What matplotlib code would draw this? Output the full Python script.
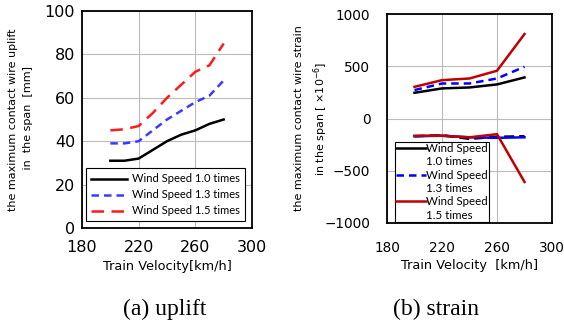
import matplotlib
matplotlib.use("Agg")
import matplotlib.pyplot as plt
from matplotlib.lines import Line2D

# ---- data ----
speed = [200, 210, 220, 230, 240, 250, 260, 270, 280]
uplift_10 = [31, 31, 32, 36, 40, 43, 45, 48, 50]
uplift_13 = [39, 39, 40, 45, 50, 54, 58, 61, 68]
uplift_15 = [45, 45.5, 47, 53, 60, 66, 72, 75, 85]

speed_s = [200, 220, 240, 260, 280]
strain_up_10 = [246, 288, 297, 326, 393]
strain_up_13 = [272, 335, 335, 383, 495]
strain_up_15 = [303, 367, 383, 457, 808]
strain_lo_10 = [-170, -160, -195, -175, -170]
strain_lo_13 = [-170, -165, -180, -185, -180]
strain_lo_15 = [-165, -165, -180, -150, -607]

C_BLK = "black"; C_BLU1 = "#3a3aff"; C_RED1 = "#ff1a1a"
C_BLU2 = "#0000ff"; C_RED2 = "#c00000"

plt.rcParams["font.family"] = ["DejaVu Sans"]
fig = plt.figure(figsize=(5.64, 3.28), dpi=100)
W, H = 564, 328

def axes_px(l, t, r, b):
    return fig.add_axes([l / W, 1 - b / H, (r - l) / W, (b - t) / H])

def style(ax, size, xpad, ypad):
    ax.grid(True, color="#bbbbbb", lw=0.8)
    ax.set_axisbelow(True)
    ax.tick_params(axis="x", direction="in", labelsize=size, length=0, pad=xpad)
    ax.tick_params(axis="y", direction="in", labelsize=size, length=0, pad=ypad)
    for s in ax.spines.values():
        s.set_linewidth(1.3)

# ---- (a) uplift ----
ax1 = axes_px(82, 11, 252, 228)
ax1.plot(speed, uplift_10, color=C_BLK, lw=1.8, label="Wind Speed 1.0 times")
ax1.plot(speed, uplift_13, color=C_BLU1, lw=1.8, ls=(0, (3, 2)), label="Wind Speed 1.3 times")
ax1.plot(speed, uplift_15, color=C_RED1, lw=1.8, ls=(0, (5, 3)), label="Wind Speed 1.5 times")
ax1.set_xlim(180, 300)
ax1.set_ylim(0, 100)
ax1.set_xticks([180, 220, 260, 300])
ax1.set_yticks([0, 20, 40, 60, 80, 100])
style(ax1, 11.5, 9, 5)
ax1.set_xlabel("Train Velocity[km/h]", fontsize=9.3, labelpad=3)
ax1.set_ylabel("the maximum contact wire uplift\n in  the span  [mm]", fontsize=8,
               linespacing=1.6)
ax1.yaxis.set_label_coords(-0.29, 0.5)
leg1 = ax1.legend(loc="lower right", prop={"family": "Lato", "size": 8}, frameon=True,
                  fancybox=False, edgecolor="black", handlelength=3.2, handletextpad=0.5,
                  borderpad=0.45, labelspacing=0.45, bbox_to_anchor=(0.96, 0.03),
                  framealpha=1, borderaxespad=0)
leg1.get_frame().set_linewidth(0.8)

# ---- (b) strain ----
ax2 = axes_px(387, 14, 552, 223)
ax2.plot(speed_s, strain_up_10, color=C_BLK, lw=1.8)
ax2.plot(speed_s, strain_up_13, color=C_BLU2, lw=1.8, ls=(0, (3, 2)))
ax2.plot(speed_s, strain_up_15, color=C_RED2, lw=1.8)
ax2.plot(speed_s, strain_lo_10, color=C_BLK, lw=1.8, ls=(0, (4, 2)))
ax2.plot(speed_s, strain_lo_13, color=C_BLU2, lw=1.8)
ax2.plot(speed_s, strain_lo_15, color=C_RED2, lw=1.8)
ax2.set_xlim(180, 300)
ax2.set_ylim(-1000, 1000)
ax2.set_xticks([180, 220, 260, 300])
ax2.set_yticks([-1000, -500, 0, 500, 1000])
style(ax2, 9.8, 13, 12)
ax2.set_xlabel("Train Velocity  [km/h]", fontsize=9.3, labelpad=3)
ax2.set_ylabel("the maximum contact wire strain\nin the span [ \u00d710$^{-6}$]", fontsize=8,
               linespacing=1.6)
ax2.yaxis.set_label_coords(-0.345, 0.5)

blank = Line2D([], [], color="none")
h2 = [Line2D([], [], color=C_BLK, lw=1.8), blank,
      Line2D([], [], color=C_BLU2, lw=1.8, ls=(0, (3, 2))), blank,
      Line2D([], [], color=C_RED2, lw=1.8), blank]
l2 = ["Wind Speed", "1.0 times", "Wind Speed", "1.3 times", "Wind Speed", "1.5 times"]
leg2 = ax2.legend(h2, l2, loc="lower left", prop={"family": "Lato", "size": 8.3},
                  frameon=True, fancybox=False, edgecolor="black", handlelength=2.6,
                  handletextpad=0.0, borderpad=0.1, labelspacing=0.2,
                  bbox_to_anchor=(0.04, 0.0), framealpha=1, borderaxespad=0.1)
leg2.get_frame().set_linewidth(0.8)

fig.text(165 / W, 1 - 309 / H, "(a) uplift", ha="center", va="center",
         family="Liberation Serif", fontsize=17)
fig.text(436 / W, 1 - 309 / H, "(b) strain", ha="center", va="center",
         family="Liberation Serif", fontsize=17)

fig.savefig("out.png", dpi=100, facecolor="white")
